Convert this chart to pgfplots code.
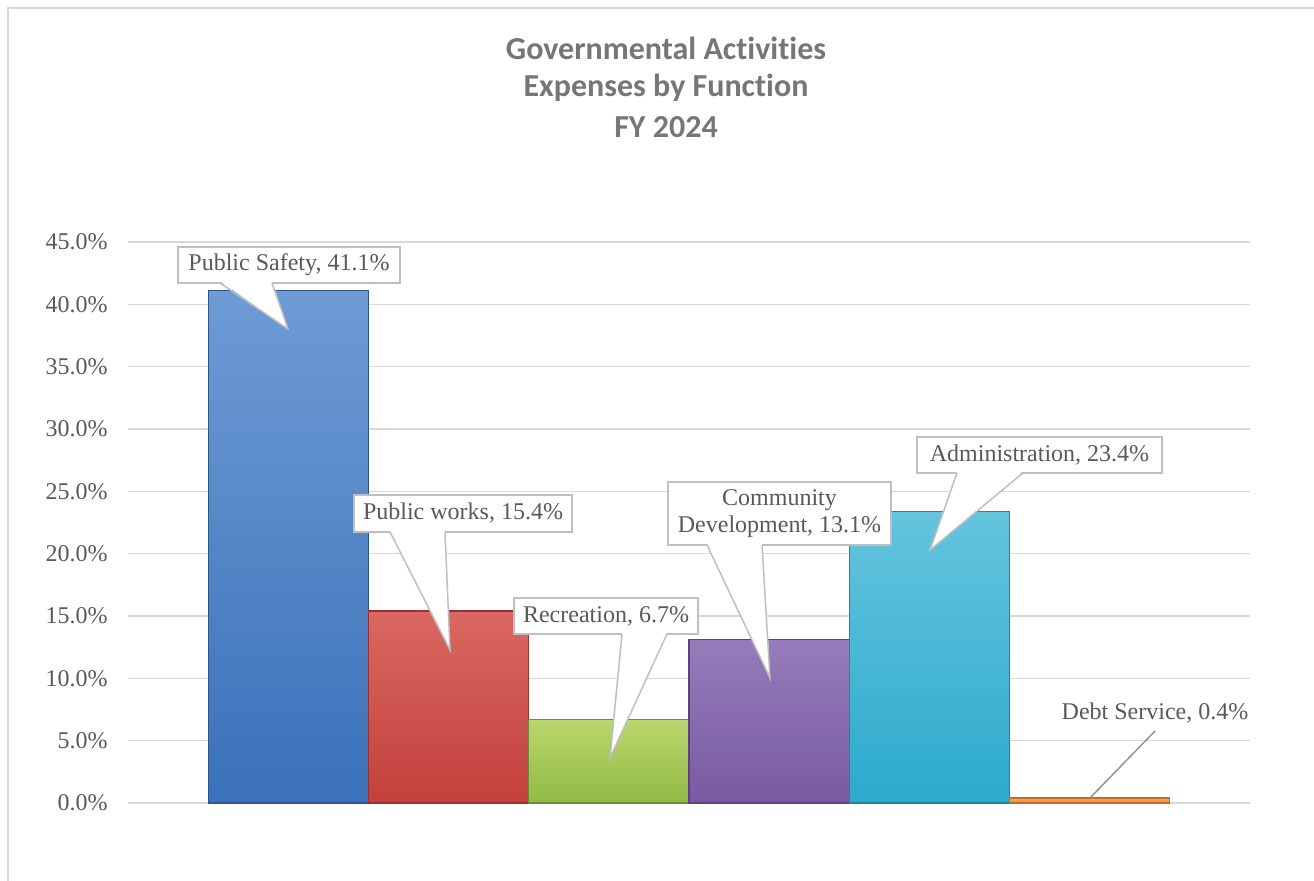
\documentclass[border=0pt]{standalone}
\usepackage{pgfplots}
\pgfplotsset{compat=1.18}
\usepackage{fontspec}
\setmainfont{Liberation Serif}
\newfontfamily\titlefont[RawFeature={-liga;-clig;-calt;-dlig}]{Carlito}
\definecolor{gridc}{RGB}{217,217,217}
\definecolor{txt}{RGB}{89,89,89}
\definecolor{ttl}{RGB}{118,118,118}
\definecolor{boxc}{RGB}{191,191,191}
\definecolor{b1t}{RGB}{110,155,212}\definecolor{b1b}{RGB}{58,113,186}\definecolor{b1d}{RGB}{45,85,140}
\definecolor{b2t}{RGB}{218,104,98}\definecolor{b2b}{RGB}{194,64,60}\definecolor{b2d}{RGB}{150,50,48}
\definecolor{b3t}{RGB}{186,214,110}\definecolor{b3b}{RGB}{146,186,70}\definecolor{b3d}{RGB}{110,140,55}
\definecolor{b4t}{RGB}{150,124,186}\definecolor{b4b}{RGB}{120,90,162}\definecolor{b4d}{RGB}{90,68,125}
\definecolor{b5t}{RGB}{100,196,222}\definecolor{b5b}{RGB}{44,170,205}\definecolor{b5d}{RGB}{35,130,160}
\definecolor{b6t}{RGB}{248,170,80}\definecolor{b6b}{RGB}{236,140,50}\definecolor{b6d}{RGB}{190,110,40}
\begin{document}
\begin{tikzpicture}
\useasboundingbox (0,0) rectangle (657pt,-440.5pt);
\draw[gridc, line width=1.2pt] (4pt,-4pt) rectangle (720pt,-520pt);
\begin{axis}[
  at={(64pt,-401.5pt)}, anchor=south west,
  scale only axis, width=561pt, height=280.5pt,
  xmin=-1, xmax=6, ymin=0, ymax=45,
  clip=false,
  axis line style={draw=none},
  tick style={draw=none},
  xtick=\empty,
  ytick={0,5,...,45},
  ymajorgrids, grid style={gridc, line width=0.75pt},
  /pgf/number format/assume math mode=true,
  yticklabel={\pgfmathprintnumber[fixed,fixed zerofill,precision=1]{\tick}\%},
  yticklabel style={text=txt, font=\fontsize{12}{14}\selectfont, inner sep=0pt, xshift=-10pt},
  ybar, bar width=1, bar shift=0pt,
]
\addplot[draw=b1d, line width=0.6pt, top color=b1t, bottom color=b1b] coordinates {(0,41.1)};
\addplot[draw=b2d, line width=0.6pt, top color=b2t, bottom color=b2b] coordinates {(1,15.4)};
\addplot[draw=b3d, line width=0.6pt, top color=b3t, bottom color=b3b] coordinates {(2,6.7)};
\addplot[draw=b4d, line width=0.6pt, top color=b4t, bottom color=b4b] coordinates {(3,13.1)};
\addplot[draw=b5d, line width=0.6pt, top color=b5t, bottom color=b5b] coordinates {(4,23.4)};
\addplot[draw=b6d, line width=0.6pt, top color=b6t, bottom color=b6b] coordinates {(5,0.4)};
\end{axis}
\begin{scope}[x=0.5pt, y=-0.5pt]
% title
\node[text=ttl, font=\titlefont\bfseries\fontsize{16}{18}\selectfont] at (666,48) {Governmental Activities};
\node[text=ttl, font=\titlefont\bfseries\fontsize{16}{18}\selectfont] at (666,88) {Expenses by Function};
\node[text=ttl, font=\titlefont\bfseries\fontsize{16}{18}\selectfont] at (666,127) {FY 2024};
% callouts
\newcommand{\callout}[9]{%
  \filldraw[fill=white, draw=boxc, line width=0.75pt] (#1,#2) rectangle (#3,#4);
  \fill[white] (#5,#4-2) -- (#7,#8) -- (#6,#4-2) -- cycle;
  \draw[boxc, line width=0.75pt] (#5,#4) -- (#7,#8) -- (#6,#4);
  \node[text=txt, font=\fontsize{12}{13.5}\selectfont, align=center, inner sep=0pt] at ({(#1+#3)/2},{(#2+#4)/2}) {#9};
}
\callout{178}{247}{400}{283}{220}{272}{288}{329}{Public Safety, 41.1\%}
\callout{354}{495}{572}{532}{390}{445}{450}{650}{Public works, 15.4\%}
\callout{514}{598}{698}{634}{622}{667}{610}{758}{Recreation, 6.7\%}
\callout{668}{482}{891}{545}{707}{762}{770}{678}{Community\\Development, 13.1\%}
\callout{917}{437}{1162}{473}{957}{1023}{930}{550}{Administration, 23.4\%}
\draw[gray!85, line width=0.75pt] (1155,731) -- (1090,798);
\node[text=txt, font=\fontsize{12}{14}\selectfont, inner sep=0pt] at (1155,713) {Debt Service, 0.4\%};
\end{scope}
\end{tikzpicture}
\end{document}
